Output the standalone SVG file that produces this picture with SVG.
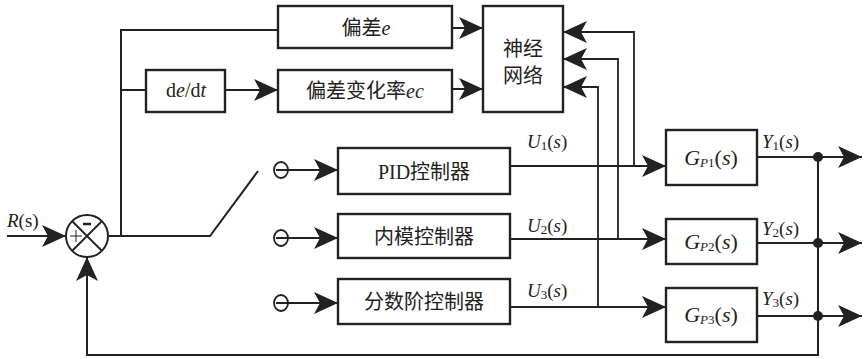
<svg xmlns="http://www.w3.org/2000/svg" width="865" height="359" viewBox="0 0 865 359">
<style>
.box{fill:#fff;stroke:#222;stroke-width:2.4}
.ln{fill:none;stroke:#222;stroke-width:2}
.thin{fill:none;stroke:#222;stroke-width:1.8}
.t{font-family:"Liberation Serif","Noto Sans CJK SC",serif;font-size:20px;fill:#222;text-anchor:middle}
.g{font-size:22px}
.l{font-family:"Liberation Serif","Noto Sans CJK SC",serif;font-size:19px;fill:#222}
.i{font-style:italic}
.s{font-size:13px}
</style>
<defs>
<marker id="a" viewBox="-25 -13 26 26" markerWidth="26" markerHeight="26" refX="0" refY="0" orient="auto" markerUnits="userSpaceOnUse">
<path d="M0,0 L-24,-11 L-18,0 L-24,11 Z" fill="#222"/>
</marker>
</defs>
<g id="connectors">
<path class="ln" d="M7,236 H66" marker-end="url(#a)"/>
<path class="ln" d="M109,236 H210 L258,171"/>
<path class="ln" d="M121,236 V30 H278"/>
<path class="ln" d="M121,90 H146"/>
<path class="ln" d="M225,90 H278" marker-end="url(#a)"/>
<path class="ln" d="M452,28 H483" marker-end="url(#a)"/>
<path class="ln" d="M452,89 H483" marker-end="url(#a)"/>
<path class="thin" d="M634,166 V32 H563" marker-end="url(#a)"/>
<path class="thin" d="M618,239 V59 H563" marker-end="url(#a)"/>
<path class="thin" d="M598,307 V87 H563" marker-end="url(#a)"/>
<path class="ln" d="M276,170 H338" marker-end="url(#a)"/>
<path class="ln" d="M276,238 H338" marker-end="url(#a)"/>
<path class="ln" d="M276,303 H338" marker-end="url(#a)"/>
<path class="ln" d="M510,166 H666" marker-end="url(#a)"/>
<path class="ln" d="M510,239 H666" marker-end="url(#a)"/>
<path class="ln" d="M510,307 H666" marker-end="url(#a)"/>
<path class="ln" d="M757,157 H862" marker-end="url(#a)"/>
<path class="ln" d="M757,243 H862" marker-end="url(#a)"/>
<path class="ln" d="M757,316 H862" marker-end="url(#a)"/>
<path class="ln" d="M818,157 V355 H87 V257" marker-end="url(#a)"/>
<circle cx="818" cy="157" r="5" fill="#222"/>
<circle cx="818" cy="243" r="5" fill="#222"/>
<circle cx="818" cy="316" r="5" fill="#222"/>
</g>
<g id="sum">
<circle cx="87" cy="236" r="21" fill="#fff" stroke="#222" stroke-width="2"/>
<path class="thin" d="M72,221 L102,251 M102,221 L72,251"/>
<path d="M70,236 H82 M76,230 V242" stroke="#222" stroke-width="1" fill="none"/>
<path d="M83,224 H91" stroke="#222" stroke-width="2.5"/>
<text class="l" x="7" y="227"><tspan class="i">R</tspan>(s)</text>
</g>
<g id="term1"><ellipse cx="281" cy="170" rx="7" ry="8" fill="none" stroke="#222" stroke-width="1.8"/></g>
<g id="term2"><ellipse cx="281" cy="238" rx="7" ry="8" fill="none" stroke="#222" stroke-width="1.8"/></g>
<g id="term3"><ellipse cx="281" cy="303" rx="7" ry="8" fill="none" stroke="#222" stroke-width="1.8"/></g>
<g id="dedt">
<rect class="box" x="146" y="70" width="79" height="42"/>
<text class="t" x="186" y="97">d<tspan class="i">e</tspan>/d<tspan class="i">t</tspan></text>
</g>
<g id="err">
<rect class="box" x="278" y="6" width="174" height="42"/>
<text class="t" x="366" y="35">偏差<tspan class="i">e</tspan></text>
</g>
<g id="errrate">
<rect class="box" x="278" y="70" width="174" height="42"/>
<text class="t" x="365" y="98">偏差变化率<tspan class="i">ec</tspan></text>
</g>
<g id="nn">
<rect class="box" x="483" y="6" width="80" height="106"/>
<text class="t" x="523" y="56">神经</text>
<text class="t" x="523" y="83">网络</text>
</g>
<g id="pid">
<rect class="box" x="338" y="148" width="172" height="46"/>
<text class="t" x="424" y="179">PID控制器</text>
</g>
<g id="imc">
<rect class="box" x="338" y="214" width="172" height="44"/>
<text class="t" x="424" y="244">内模控制器</text>
</g>
<g id="frac">
<rect class="box" x="338" y="279" width="172" height="45"/>
<text class="t" x="424" y="309">分数阶控制器</text>
</g>
<g id="gp1">
<rect class="box" x="666" y="130" width="91" height="55"/>
<text class="t g" x="711" y="165"><tspan class="i">G</tspan><tspan class="s i" dy="2">P</tspan><tspan class="s">1</tspan><tspan dy="-2">(</tspan><tspan class="i">s</tspan>)</text>
</g>
<g id="gp2">
<rect class="box" x="666" y="219" width="91" height="45"/>
<text class="t g" x="711" y="249"><tspan class="i">G</tspan><tspan class="s i" dy="2">P</tspan><tspan class="s">2</tspan><tspan dy="-2">(</tspan><tspan class="i">s</tspan>)</text>
</g>
<g id="gp3">
<rect class="box" x="666" y="288" width="91" height="54"/>
<text class="t g" x="711" y="322"><tspan class="i">G</tspan><tspan class="s i" dy="2">P</tspan><tspan class="s">3</tspan><tspan dy="-2">(</tspan><tspan class="i">s</tspan>)</text>
</g>
<g id="labels">
<text class="l" x="527" y="148"><tspan class="i">U</tspan><tspan class="s" dy="2">1</tspan><tspan dy="-2">(</tspan><tspan class="i">s</tspan>)</text>
<text class="l" x="527" y="232"><tspan class="i">U</tspan><tspan class="s" dy="2">2</tspan><tspan dy="-2">(</tspan><tspan class="i">s</tspan>)</text>
<text class="l" x="527" y="297"><tspan class="i">U</tspan><tspan class="s" dy="2">3</tspan><tspan dy="-2">(</tspan><tspan class="i">s</tspan>)</text>
<text class="l" x="762" y="148"><tspan class="i">Y</tspan><tspan class="s" dy="2">1</tspan><tspan dy="-2">(</tspan><tspan class="i">s</tspan>)</text>
<text class="l" x="762" y="235"><tspan class="i">Y</tspan><tspan class="s" dy="2">2</tspan><tspan dy="-2">(</tspan><tspan class="i">s</tspan>)</text>
<text class="l" x="762" y="305"><tspan class="i">Y</tspan><tspan class="s" dy="2">3</tspan><tspan dy="-2">(</tspan><tspan class="i">s</tspan>)</text>
</g>
</svg>
